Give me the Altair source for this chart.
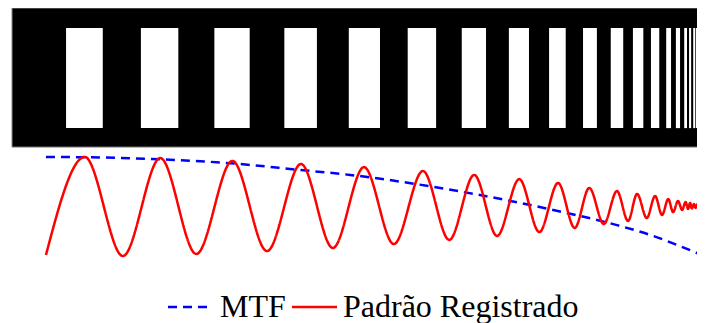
import altair as alt
import pandas as pd

# ---- data (arbitrary position units 0..100 horizontally and vertically) ----
series = ["MTF", "Padrão Registrado"]

# bar pattern (white bars inside the black frame)
bar_start = [7.8, 18.6, 29.2, 39.3, 48.6, 57.1, 64.9, 71.7, 77.5, 82.4, 86.4,
             89.6, 92.2, 94.4, 95.8, 97.0, 97.7, 98.3, 98.7, 99.1, 99.6]
bar_end = [13.1, 24.0, 34.3, 44.0, 53.1, 61.2, 68.4, 74.6, 79.9, 84.4, 88.2,
           91.1, 93.4, 95.1, 96.4, 97.4, 98.0, 98.6, 99.0, 99.4, 99.7]
frame_x = [0.0, 100.0]
frame_y = [46.5, 100.0]
bar_y = [53.8, 92.3]

# registered pattern (extrema of the red curve)
red_x = [4.9, 10.5, 16.0, 21.4, 26.6, 31.8, 36.8, 41.7, 46.3, 50.8, 55.1, 59.3,
         63.1, 66.7, 70.0, 73.2, 76.1, 78.8, 81.2, 83.3, 85.4, 87.3, 88.9, 90.2,
         91.6, 92.8, 93.8, 94.7, 95.4, 96.1, 96.7, 97.2, 97.55, 97.85, 98.1,
         98.4, 98.65, 98.85, 99.0, 99.2, 99.4, 99.65, 99.85]
red_y = [5.0, 42.7, 4.6, 42.3, 5.4, 41.2, 6.5, 40.0, 7.7, 38.8, 9.2, 37.3,
         10.8, 35.8, 12.3, 34.2, 13.8, 32.7, 15.4, 30.8, 16.9, 29.6, 18.1, 28.5,
         19.2, 27.7, 20.4, 26.5, 21.5, 25.8, 22.3, 25.4, 22.7, 25.0, 22.9,
         24.6, 23.1, 24.4, 23.1, 24.2, 23.3, 24.0, 23.5]

# MTF curve
mtf_x = [4.9, 10.5, 21.4, 31.5, 41.6, 48.8, 62.8, 71.9, 78.6, 87.3, 92.1, 98.9]
mtf_y = [42.7, 42.6, 41.8, 40.3, 37.7, 35.8, 30.3, 25.8, 22.0, 16.5, 12.7, 5.7]

# ---- legend layout (pixels inside the plot group) ----
legend_sym_x0 = [156, 280]
legend_sym_x1 = [196, 325]
legend_txt_x = [208, 331]
legend_sym_y = 299
legend_txt_y = 309

# ---- tables ----
frame_df = pd.DataFrame({"x0": [frame_x[0]], "x1": [frame_x[1]],
                         "y0": [frame_y[0]], "y1": [frame_y[1]]})
bars_df = pd.DataFrame({"x0": bar_start, "x1": bar_end,
                        "y0": [bar_y[0]] * len(bar_start),
                        "y1": [bar_y[1]] * len(bar_start)})
lines_df = pd.concat([
    pd.DataFrame({"x": mtf_x, "y": mtf_y, "serie": series[0]}),
    pd.DataFrame({"x": red_x, "y": red_y, "serie": series[1]}),
], ignore_index=True)
legend_df = pd.DataFrame({"serie": series, "sx0": legend_sym_x0,
                          "sx1": legend_sym_x1, "tx": legend_txt_x})

xs = alt.Scale(domain=[0, 100], nice=False, zero=False)
ys = alt.Scale(domain=[0, 100], nice=False, zero=False)
color_scale = alt.Scale(domain=series, range=["#0000ff", "#ff0000"])
dash_scale = alt.Scale(domain=series, range=[[9, 6], [1, 0]])

frame = alt.Chart(frame_df).mark_rect(fill="black", stroke="#888888", strokeWidth=1).encode(
    x=alt.X("x0:Q", scale=xs, axis=None), x2="x1",
    y=alt.Y("y0:Q", scale=ys, axis=None), y2="y1",
)

bars = alt.Chart(bars_df).mark_rect(fill="white").encode(
    x=alt.X("x0:Q", scale=xs, axis=None), x2="x1",
    y=alt.Y("y0:Q", scale=ys, axis=None), y2="y1",
)

lines = alt.Chart(lines_df).mark_line(strokeWidth=2.5, interpolate="monotone").encode(
    x=alt.X("x:Q", scale=xs, axis=None),
    y=alt.Y("y:Q", scale=ys, axis=None),
    color=alt.Color("serie:N", scale=color_scale, legend=None),
    strokeDash=alt.StrokeDash("serie:N", scale=dash_scale, legend=None),
)

# legend drawn as marks (serif labels)
leg_sym = alt.Chart(legend_df).mark_rule(strokeWidth=2.5).encode(
    x=alt.X("sx0:Q", scale=None, axis=None), x2="sx1",
    y=alt.value(legend_sym_y),
    color=alt.Color("serie:N", scale=color_scale, legend=None),
    strokeDash=alt.StrokeDash("serie:N", scale=dash_scale, legend=None),
)
leg_txt = alt.Chart(legend_df).mark_text(
    font="Liberation Serif", fontSize=32, align="left", baseline="alphabetic", color="black"
).encode(
    x=alt.X("tx:Q", scale=None, axis=None),
    y=alt.value(legend_txt_y),
    text="serie:N",
)

chart = alt.layer(frame, bars, lines, leg_sym, leg_txt).properties(
    width=693, height=260,
    padding={"left": 4, "top": 0, "right": -8, "bottom": 55},
    autosize=alt.AutoSizeParams(type="none"),
).configure_view(stroke=None)

chart.save("out.html", embed_options={"renderer": "svg", "actions": False})
